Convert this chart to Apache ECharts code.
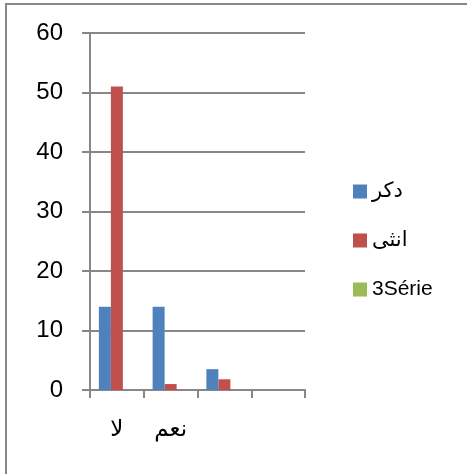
<!DOCTYPE html>
<html>
<head>
<meta charset="utf-8">
<script src="https://cdn.jsdelivr.net/npm/echarts@6/dist/echarts.min.js"></script>
<style>
  body { margin: 0; background: #fff; }
  #chart { width: 467px; height: 474px; }
</style>
</head>
<body>
<div id="chart"></div>
<script>
  const categories = ["لا", "نعم", "", ""];
  const maleValues = [14, 14, 3.5, null];
  const femaleValues = [51, 1, 1.8, null];
  const serie3Values = [null, null, null, null];
  const seriesNames = ["دكر", "انثى", "3Série"];

  const font = "'Liberation Sans', 'DejaVu Sans', sans-serif";
  const gray = "#878787";

  const myChart = echarts.init(document.getElementById("chart"));
  const option = {
    animation: false,
    backgroundColor: "#fff",
    graphic: [
      // chart frame (top + left edge only visible)
      { type: "line", shape: { x1: 5, y1: 4, x2: 467, y2: 4 }, style: { stroke: gray, lineWidth: 2 } },
      { type: "line", shape: { x1: 6, y1: 4, x2: 6, y2: 474 }, style: { stroke: gray, lineWidth: 2 } },
    ],
    legend: {
      orient: "vertical",
      left: 348,
      top: 176,
      itemWidth: 14,
      itemHeight: 14,
      itemGap: 28,
      icon: "rect",
      textStyle: { color: "#000", fontSize: 21, fontFamily: font },
      data: seriesNames,
    },
    grid: {
      left: 90,
      top: 33,
      width: 215,
      height: 357,
      containLabel: false,
    },
    xAxis: {
      type: "category",
      data: categories,
      axisLine: { lineStyle: { color: gray, width: 2 } },
      axisTick: { show: true, length: 8, lineStyle: { color: gray, width: 2 } },
      axisLabel: { color: "#000", fontSize: 23, fontFamily: font, margin: 28 },
      splitLine: { show: false },
    },
    yAxis: {
      type: "value",
      min: 0,
      max: 60,
      interval: 10,
      axisLine: { show: true, lineStyle: { color: gray, width: 2 } },
      axisTick: { show: true, length: 8, lineStyle: { color: gray, width: 2 } },
      axisLabel: { color: "#000", fontSize: 24, fontFamily: font, margin: 27 },
      splitLine: { show: true, lineStyle: { color: gray, width: 2 } },
    },
    series: [
      {
        name: seriesNames[0],
        type: "bar",
        barWidth: 12,
        barGap: "0%",
        itemStyle: { color: "#4F81BD" },
        data: maleValues,
      },
      {
        name: seriesNames[1],
        type: "bar",
        barWidth: 12,
        barGap: "0%",
        itemStyle: { color: "#C0504D" },
        data: femaleValues,
      },
      {
        name: seriesNames[2],
        type: "bar",
        barWidth: 12,
        barGap: "0%",
        itemStyle: { color: "#9BBB59" },
        data: serie3Values,
      },
    ],
  };

  option && myChart.setOption(option);
</script>
</body>
</html>
